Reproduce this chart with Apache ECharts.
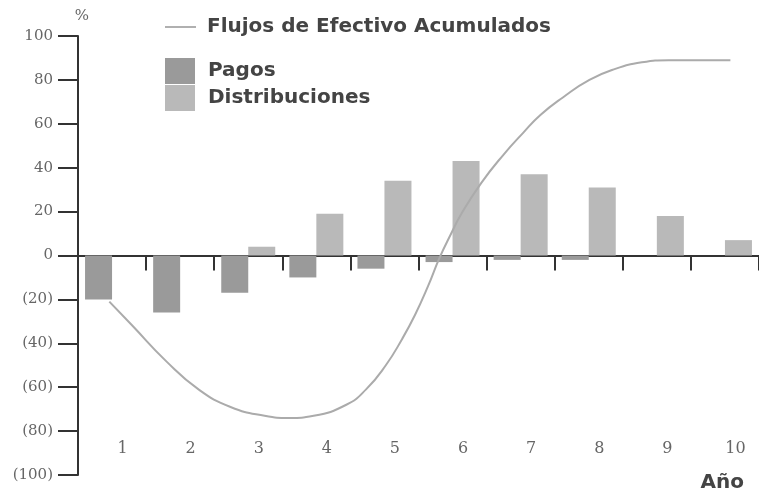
<!DOCTYPE html>
<html>
<head>
<meta charset="utf-8">
<script src="https://cdn.jsdelivr.net/npm/echarts@6/dist/echarts.min.js"></script>
<style>
  html, body { margin: 0; padding: 0; background: #fff; }
</style>
</head>
<body>
<div id="main" style="width: 759px;height: 491px;"></div>
<script>
// años (categorias)
var years = ['1', '2', '3', '4', '5', '6', '7', '8', '9', '10'];
// pagos (negativos) y distribuciones por año, en %
var pagos = [-20, -26, -17, -10, -6, -3, -2, -2, 0, 0];
var distribuciones = [0, 0, 4, 19, 34, 43, 37, 31, 18, 7];
// curva de flujos acumulados: posicion en años y valor en %
var flujoAnio = [0.46, 0.80, 1.29, 1.77, 2.24, 2.74, 3.10, 3.46, 3.94, 4.23, 4.52, 4.76, 4.95, 5.14,
  5.31, 5.48, 5.63, 5.92, 6.25, 6.54, 6.79, 7.12, 7.51, 7.89, 8.28, 8.67, 9.58];
var flujoValor = [-21, -32, -48, -61, -69, -73, -74, -73, -68, -61, -50, -38, -27, -14,
  -1, 10, 19, 33, 46, 56, 64, 72, 80, 85, 88, 89, 89];
var yTicks = [-100, -80, -60, -40, -20, 0, 20, 40, 60, 80, 100];

var flujos = [];
for (let i = 0; i < flujoAnio.length; i++) {
  flujos.push([flujoAnio[i], flujoValor[i]]);
}

var chart = echarts.init(document.getElementById('main'));
var labelFont = 'DejaVu Serif';
var boldFont = 'DejaVu Sans';

var option = {
  animation: false,
  backgroundColor: '#fff',
  title: {
    text: 'Año',
    right: 10,
    top: 468,
    textStyle: { fontFamily: boldFont, fontWeight: 'bold', fontSize: 20, color: '#444' }
  },
  legend: [
    {
      data: [{ name: 'Flujos de Efectivo Acumulados', icon: 'rect' }],
      left: 160,
      top: 12,
      itemWidth: 31,
      itemHeight: 2,
      itemStyle: { color: '#b0b0b0' },
      textStyle: { fontFamily: boldFont, fontWeight: 'bold', fontSize: 20, color: '#444', padding: [0, 0, 0, 6] }
    },
    {
      data: ['Pagos', 'Distribuciones'],
      orient: 'vertical',
      left: 160,
      top: 53,
      icon: 'rect',
      itemWidth: 30,
      itemHeight: 26,
      itemGap: 1,
      textStyle: { fontFamily: boldFont, fontWeight: 'bold', fontSize: 20, color: '#444', padding: [0, 0, 4, 8] }
    }
  ],
  grid: { left: 78, top: 36, width: 691, height: 439 },
  xAxis: [
    {
      // linea del cero con marcas
      type: 'category',
      data: years,
      axisLine: { onZero: true, lineStyle: { color: '#333', width: 2 } },
      axisTick: { show: true, length: 15, lineStyle: { color: '#333', width: 2 } },
      axisLabel: { show: false },
      splitLine: { show: false }
    },
    {
      // etiquetas de año abajo
      type: 'category',
      data: years,
      position: 'bottom',
      offset: -42,
      axisLine: { show: false },
      axisTick: { show: false },
      axisLabel: {
        margin: 8,
        fontFamily: labelFont,
        fontSize: 16,
        color: '#666',
        padding: [0, 0, 0, 21]
      }
    },
    {
      type: 'value',
      min: 0,
      max: 10,
      show: false
    }
  ],
  yAxis: {
    type: 'value',
    min: -100,
    max: 100,
    interval: 20,
    name: '%',
    nameLocation: 'end',
    nameGap: 10,
    nameTextStyle: { fontFamily: labelFont, fontSize: 15, color: '#666', padding: [0, 0, 2, 8] },
    axisLine: { show: true, onZero: false, lineStyle: { color: '#333', width: 2 } },
    axisTick: { show: true, length: 20, lineStyle: { color: '#333', width: 2 } },
    splitLine: { show: false },
    axisLabel: {
      margin: 25,
      fontFamily: labelFont,
      fontSize: 15,
      color: '#666',
      formatter: function (v) {
        if (yTicks.indexOf(v) < 0) return '';
        return v < 0 ? '(' + (-v) + ')' : String(v);
      }
    }
  },
  series: [
    {
      name: 'Pagos',
      type: 'bar',
      xAxisIndex: 0,
      data: pagos,
      barWidth: 27,
      barGap: '0%',
      itemStyle: { color: '#9a9a9a' }
    },
    {
      name: 'Distribuciones',
      type: 'bar',
      xAxisIndex: 0,
      data: distribuciones,
      barWidth: 27,
      barGap: '0%',
      itemStyle: { color: '#b9b9b9' }
    },
    {
      name: 'Flujos de Efectivo Acumulados',
      type: 'line',
      xAxisIndex: 2,
      data: flujos,
      smooth: true,
      symbol: 'none',
      lineStyle: { color: '#ababab', width: 2 },
      itemStyle: { color: '#ababab' },
      z: 5
    }
  ]
};

chart.setOption(option);
</script>
</body>
</html>
